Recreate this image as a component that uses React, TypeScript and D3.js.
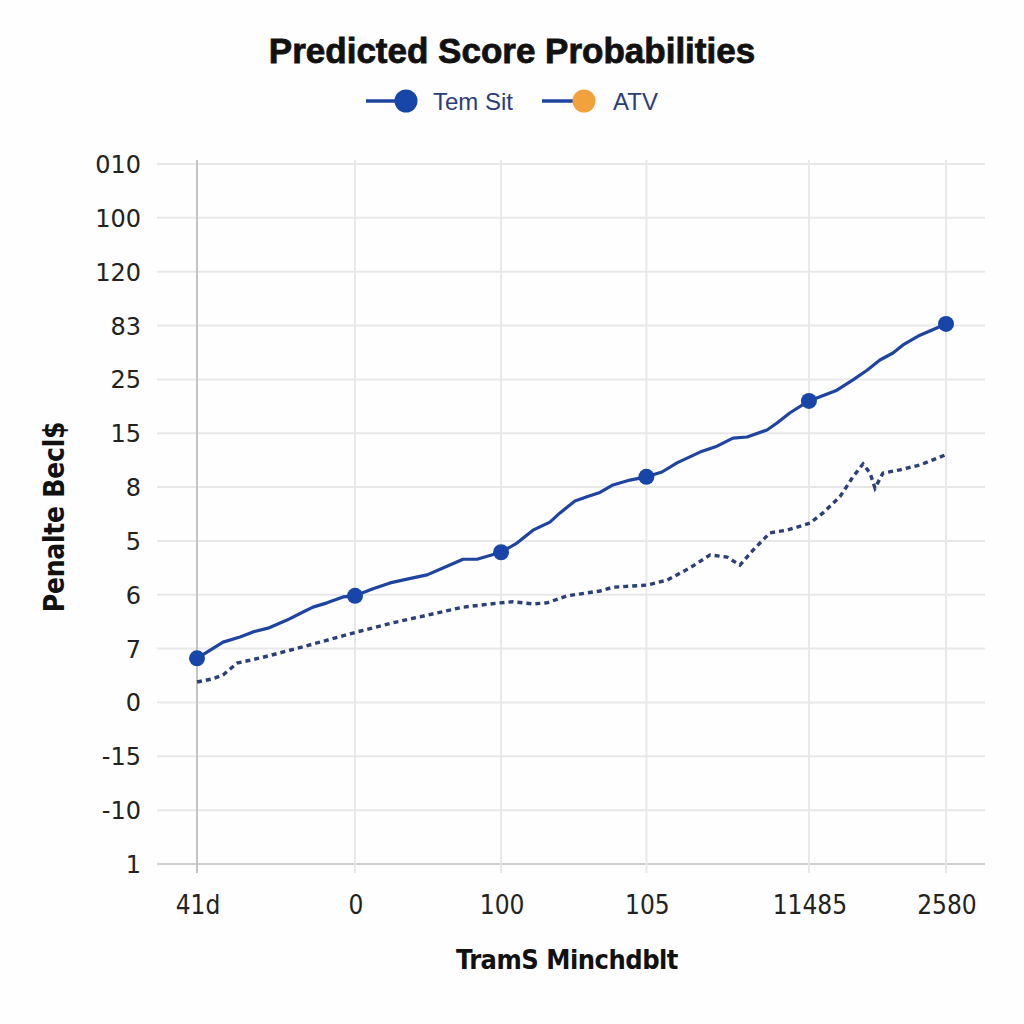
import React from "react";
import * as d3 from "d3";

const title = "Predicted Score Probabilities";
const legendNames = ["Tem Sit", "ATV"];
const xTitle = "TramS Minchdblt";
const yTitle = "Penalte Becl$";

const yCategories = ["010", "100", "120", "83", "25", "15", "8", "5", "6", "7", "0", "-15", "-10", "1"];
const xLabels = ["41d", "0", "100", "105", "11485", "2580"];
const xTickPositions = [0, 1.055, 2.03, 3.0, 4.085, 5.0];

const temSitX = [0, 0.174, 0.287, 0.374, 0.474, 0.601, 0.708, 0.774, 0.868, 0.975, 1.055, 1.175, 1.289, 1.402, 1.536, 1.669, 1.776, 1.869, 2.03, 2.136, 2.243, 2.356, 2.423, 2.523, 2.603, 2.69, 2.777, 2.89, 3.0, 3.104, 3.204, 3.358, 3.471, 3.578, 3.672, 3.805, 3.872, 3.959, 4.085, 4.272, 4.379, 4.473, 4.559, 4.646, 4.713, 4.826, 5.0];
const temSitY = [3.82, 4.12, 4.215, 4.31, 4.38, 4.53, 4.68, 4.77, 4.85, 4.96, 4.98, 5.11, 5.22, 5.29, 5.37, 5.53, 5.66, 5.66, 5.79, 5.96, 6.2, 6.35, 6.52, 6.74, 6.82, 6.9, 7.04, 7.13, 7.19, 7.28, 7.45, 7.65, 7.76, 7.91, 7.93, 8.06, 8.19, 8.38, 8.6, 8.8, 8.99, 9.17, 9.36, 9.49, 9.64, 9.82, 10.03];
const markerY = [3.82, 4.98, 5.79, 7.19, 8.6, 10.03];

const atvX = [0, 0.107, 0.174, 0.267, 0.441, 0.621, 0.821, 1.068, 1.308, 1.535, 1.776, 2.023, 2.109, 2.243, 2.336, 2.47, 2.69, 2.777, 3.004, 3.137, 3.291, 3.425, 3.538, 3.625, 3.712, 3.825, 3.939, 4.092, 4.179, 4.292, 4.379, 4.446, 4.493, 4.526, 4.579, 4.693, 4.826, 5.007];
const atvY = [3.38, 3.44, 3.51, 3.73, 3.84, 3.97, 4.12, 4.31, 4.48, 4.62, 4.77, 4.85, 4.87, 4.83, 4.85, 4.98, 5.07, 5.14, 5.18, 5.27, 5.5, 5.74, 5.7, 5.55, 5.83, 6.15, 6.2, 6.33, 6.52, 6.82, 7.19, 7.43, 7.26, 6.98, 7.26, 7.32, 7.41, 7.61];

const BLUE = "#1f44a0";
const MARKER = "#1746a8";
const NAVY = "#2b3f78";
const ORANGE = "#f1a23d";

export default function App() {
  const x = d3.scaleLinear().domain([0, 5]).range([197, 946]);
  const y = d3.scaleLinear().domain([0, yCategories.length - 1]).range([864, 164]);
  const line = d3
    .line<[number, number]>()
    .x((d) => x(d[0]))
    .y((d) => y(d[1]))
    .curve(d3.curveLinear);
  const temSit: [number, number][] = temSitX.map((v, i) => [v, temSitY[i]]);
  const atv: [number, number][] = atvX.map((v, i) => [v, atvY[i]]);
  const n = yCategories.length;
  const sans = "'Liberation Sans', Arial, sans-serif";
  const narrow = "'Liberation Sans Narrow', 'DejaVu Sans Condensed', 'Liberation Sans', sans-serif";

  return (
    <svg width={1024} height={1024} style={{ position: "absolute", left: 0, top: 0, background: "#ffffff" }}>
      <rect x={0} y={0} width={1024} height={1024} fill="#fefefe" />
      <text x={512} y={63} textAnchor="middle" fontFamily={sans} fontWeight={700} fontSize={35} fill="#111" stroke="#111" strokeWidth={0.8}>
        {title}
      </text>
      {/* legend */}
      <g>
        <line x1={366} x2={400} y1={101} y2={101} stroke={BLUE} strokeWidth={3.5} />
        <circle cx={406} cy={101} r={11.5} fill={MARKER} />
        <text x={433} y={110} fontFamily={sans} fontSize={24} fill="#2a3d7a">{legendNames[0]}</text>
        <line x1={542} x2={576} y1={101} y2={101} stroke={BLUE} strokeWidth={3.5} />
        <circle cx={584} cy={101} r={11.5} fill={ORANGE} />
        <text x={613} y={110} fontFamily={sans} fontSize={24} fill="#2a3d7a">{legendNames[1]}</text>
      </g>
      {/* horizontal gridlines */}
      {yCategories.map((c, i) => (
        <line key={"h" + i} x1={157} x2={985} y1={y(n - 1 - i)} y2={y(n - 1 - i)} stroke={i === n - 1 ? "#cfcfcf" : "#e8e8e8"} strokeWidth={2} />
      ))}
      {/* vertical gridlines */}
      {xTickPositions.map((p, i) => (
        <line key={"v" + i} x1={x(p)} x2={x(p)} y1={160} y2={873} stroke={i === 0 ? "#c4c4c4" : "#e8e8e8"} strokeWidth={2} />
      ))}
      {/* y labels */}
      {yCategories.map((c, i) => (
        <text key={"yl" + i} x={141} y={y(n - 1 - i) + 9} textAnchor="end" fontFamily="'DejaVu Sans', sans-serif" fontSize={24} fill="#222">
          {c}
        </text>
      ))}
      {/* x labels */}
      {xLabels.map((l, i) => (
        <text key={"xl" + i} x={x(xTickPositions[i]) + 1} y={914} textAnchor="middle" fontFamily={narrow} fontSize={26} fill="#222">
          {l}
        </text>
      ))}
      <text x={567} y={969} textAnchor="middle" fontFamily={narrow} fontWeight={700} fontSize={27} fill="#111" letterSpacing={-0.5}>
        {xTitle}
      </text>
      <text transform={`translate(64,517) rotate(-90)`} textAnchor="middle" fontFamily={narrow} fontWeight={700} fontSize={28} fill="#111" letterSpacing={-0.3}>
        {yTitle}
      </text>
      {/* series */}
      <path d={line(atv) || ""} fill="none" stroke={NAVY} strokeWidth={3.4} strokeDasharray="5 4" />
      <path d={line(temSit) || ""} fill="none" stroke={BLUE} strokeWidth={3.2} strokeLinejoin="round" />
      {xTickPositions.map((p, i) => (
        <circle key={"m" + i} cx={x(p)} cy={y(markerY[i])} r={8} fill={MARKER} />
      ))}
    </svg>
  );
}
